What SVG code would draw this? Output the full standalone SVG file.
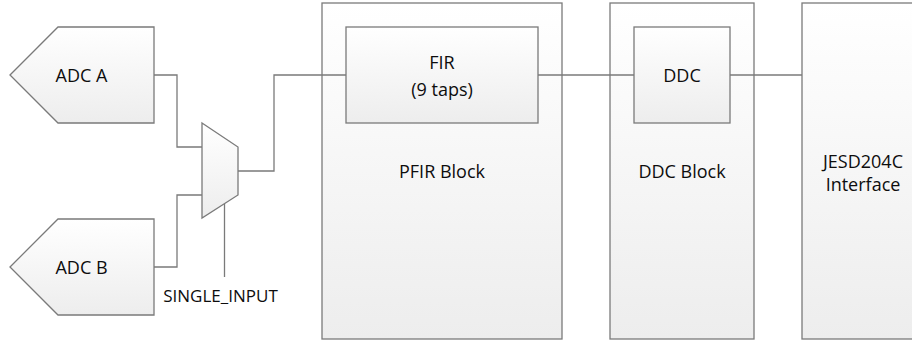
<svg xmlns="http://www.w3.org/2000/svg" width="912" height="343" viewBox="0 0 912 343">
<defs>
<linearGradient id="g" x1="0" y1="0" x2="0" y2="1">
<stop offset="0" stop-color="#ffffff"/>
<stop offset="1" stop-color="#ededed"/>
</linearGradient>
<style>
.box{fill:url(#g);stroke:#7a7a7a;stroke-width:1.3}
.wire{fill:none;stroke:#7a7a7a;stroke-width:1.3}
text{font-family:"Open Sans","Noto Sans",sans-serif;font-size:18px;fill:#0d0d0d;text-anchor:middle}
</style>
</defs>
<rect width="912" height="343" fill="#ffffff"/>
<g id="pfir-block"><rect class="box" x="322" y="3" width="240" height="336"/><text x="442" y="178">PFIR Block</text></g>
<g id="ddc-block"><rect class="box" x="610" y="3" width="144" height="336"/><text x="682" y="178">DDC Block</text></g>
<g id="jesd"><rect class="box" x="802" y="3" width="130" height="336"/><text x="863" y="168">JESD204C</text><text x="863" y="191">Interface</text></g>
<g id="connectors">
<polyline class="wire" points="154,75 177,75 177,147 202,147"/>
<polyline class="wire" points="154,267 177,267 177,195 202,195"/>
<polyline class="wire" points="238,171 274,171 274,75 346,75"/>
<line class="wire" x1="538" y1="75" x2="634" y2="75"/>
<line class="wire" x1="730" y1="75" x2="802" y2="75"/>
<line class="wire" x1="224.5" y1="204" x2="224.5" y2="277"/>
</g>
<g id="fir"><rect class="box" x="346" y="27" width="192" height="96"/><text x="442" y="69">FIR</text><text x="442" y="96">(9 taps)</text></g>
<g id="ddc"><rect class="box" x="634" y="27" width="96" height="96"/><text x="682" y="82">DDC</text></g>
<g id="adc-a"><polygon class="box" points="10,75 58,27 154,27 154,123 58,123"/><text x="81.5" y="82">ADC A</text></g>
<g id="adc-b"><polygon class="box" points="10,267 58,219 154,219 154,315 58,315"/><text x="81.5" y="274">ADC B</text></g>
<g id="mux"><polygon class="box" points="202,123 238,147 238,195 202,218"/></g>
<g id="single-input-label"><text x="220.5" y="302" style="font-size:17px">SINGLE_INPUT</text></g>
</svg>
